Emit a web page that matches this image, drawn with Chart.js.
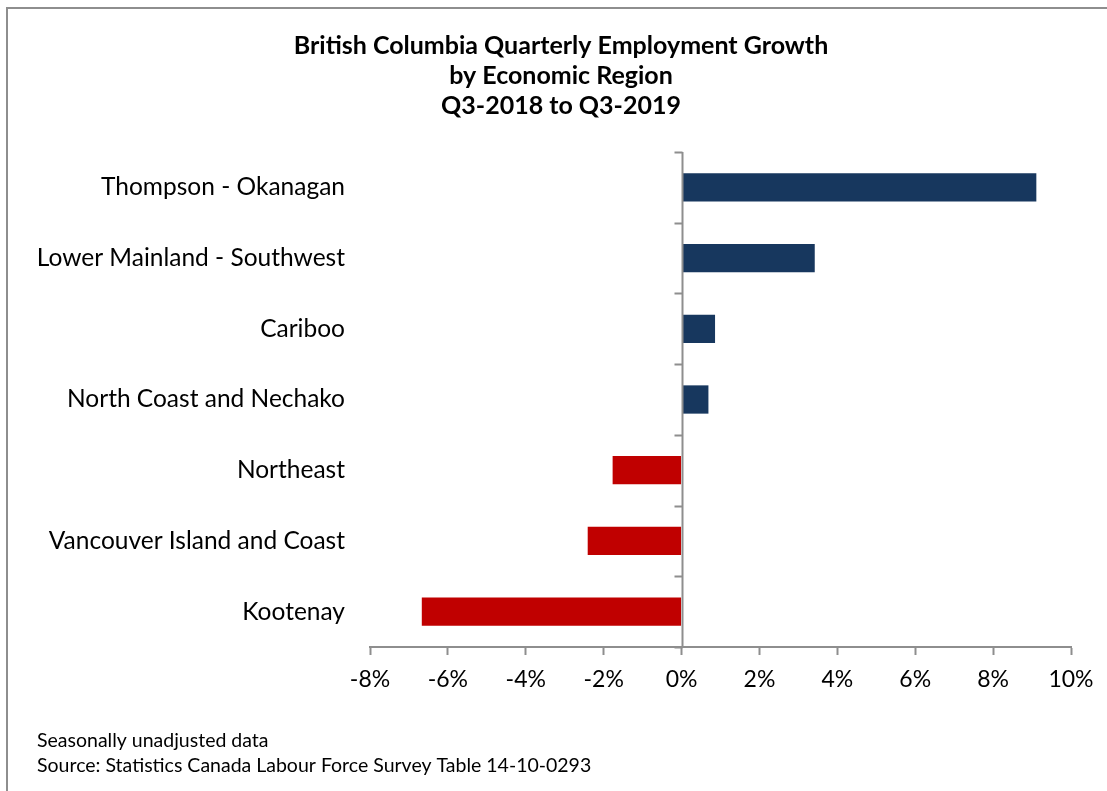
<!DOCTYPE html>
<html>
<head>
<meta charset="utf-8">
<title>BC Quarterly Employment Growth</title>
<script src="https://cdn.jsdelivr.net/npm/chart.js@4.4.1/dist/chart.umd.min.js"></script>
<style>
  html, body { margin: 0; padding: 0; background: #fff; }
  #wrap { position: relative; width: 1107px; height: 791px; overflow: hidden; }
  #frame {
    position: absolute; left: 6px; top: 7px; width: 1200px; height: 900px;
    border-left: 2px solid #8e8e8e; border-top: 2px solid #8e8e8e;
    pointer-events: none;
  }
</style>
</head>
<body>
<div id="wrap">
  <canvas id="growthChart" width="1107" height="791"></canvas>
  <div id="frame"></div>
</div>
<script>
// regions, top to bottom
const regions = [
  'Thompson - Okanagan',
  'Lower Mainland - Southwest',
  'Cariboo',
  'North Coast and Nechako',
  'Northeast',
  'Vancouver Island and Coast',
  'Kootenay'
];

// year-over-year employment change, %
const growth = [9.11, 3.42, 0.86, 0.69, -1.77, -2.41, -6.67];

const xTicks = [-8, -6, -4, -2, 0, 2, 4, 6, 8, 10];

const titleLines = [
  'British Columbia Quarterly Employment Growth',
  'by Economic Region',
  'Q3-2018 to Q3-2019'
];

const notes = [
  'Seasonally unadjusted data',
  'Source: Statistics Canada Labour Force Survey Table 14-10-0293'
];

const FONT = "Lato, 'Open Sans', sans-serif";
const AXIS_GREY = '#8e8e8e';

// vertical axis at 0% with small ticks between the regions,
// the centred three-line title and the footnotes
const decorations = {
  id: 'decorations',
  afterDatasetsDraw(chart) {
    const { ctx, chartArea, scales } = chart;
    const x0 = Math.round(scales.x.getPixelForValue(0)) + 0.5;
    const y = scales.y;
    ctx.save();
    ctx.strokeStyle = AXIS_GREY;
    ctx.lineWidth = 2;
    ctx.beginPath();
    ctx.moveTo(x0, chartArea.top);
    ctx.lineTo(x0, chartArea.bottom);
    for (let i = 0; i <= regions.length; i++) {
      const yy = Math.round(y.getPixelForValue(i - 0.5)) + 0.5;
      ctx.moveTo(x0 - 8, yy);
      ctx.lineTo(x0, yy);
    }
    ctx.stroke();
    ctx.restore();
  },
  afterDraw(chart) {
    const { ctx } = chart;
    ctx.save();
    ctx.fillStyle = '#000';
    ctx.textBaseline = 'middle';

    ctx.font = 'bold 25px ' + FONT;
    ctx.textAlign = 'center';
    titleLines.forEach((t, i) => ctx.fillText(t, 561, 46 + i * 30));

    ctx.font = '19.5px ' + FONT;
    ctx.textAlign = 'left';
    notes.forEach((t, i) => ctx.fillText(t, 37, 741 + i * 25));
    ctx.restore();
  }
};

new Chart(document.getElementById('growthChart'), {
  type: 'bar',
  data: {
    labels: regions,
    datasets: [{
      data: growth,
      backgroundColor: growth.map(v => v >= 0 ? '#17375e' : '#c00000'),
      borderWidth: 0,
      barPercentage: 0.4,
      categoryPercentage: 1
    }]
  },
  options: {
    indexAxis: 'y',
    responsive: false,
    animation: false,
    layout: { padding: { left: 0, right: 36, top: 152, bottom: 0 } },
    plugins: {
      legend: { display: false },
      tooltip: { enabled: false }
    },
    scales: {
      x: {
        type: 'linear',
        min: -8,
        max: 10,
        afterBuildTicks(scale) {
          scale.ticks = xTicks.map(v => ({ value: v }));
        },
        afterFit(scale) { scale.height = 144; },
        grid: {
          drawOnChartArea: false,
          drawTicks: true,
          tickLength: 8,
          tickWidth: 2,
          tickColor: AXIS_GREY
        },
        border: { display: true, color: AXIS_GREY, width: 2 },
        ticks: {
          color: '#000',
          padding: 11,
          font: { family: FONT, size: 23 },
          callback: v => v + '%'
        }
      },
      y: {
        afterFit(scale) { scale.width = 370; },
        grid: { display: false, drawTicks: false },
        border: { display: false },
        ticks: {
          color: '#000',
          padding: 25,
          font: { family: FONT, size: 24.5 }
        }
      }
    }
  },
  plugins: [decorations]
});
</script>
</body>
</html>
